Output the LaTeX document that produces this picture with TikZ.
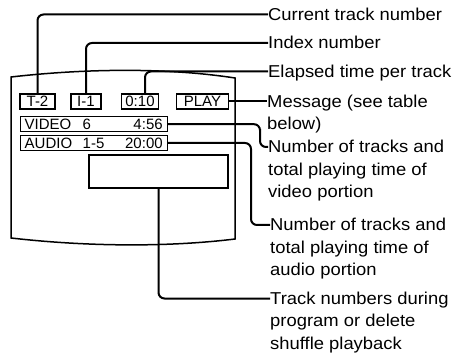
\documentclass[tikz,border=0pt]{standalone}
\usepackage{fontspec}
\setmainfont{Liberation Sans}
\newfontfamily\capfont{Liberation Sans}[FakeStretch=1.07]
\tikzset{
  readout/.style={
    draw,
    line width=1.3pt,
    inner sep=0pt,
    minimum height=15pt,
    font=\fontsize{15}{18}\selectfont
  },
  leader/.style={
    line width=2pt,
    rounded corners=6pt
  },
  caption/.style={
    anchor=base west,
    inner sep=0pt,
    font=\capfont\fontsize{17.2}{22.5}\selectfont
  }
}
\newcommand{\lcdrow}[3]{\hbox to 138pt{\hbox to 58pt{#1\hfil}#2\hfil#3}}
\newcommand{\caplines}[1]{\begin{tabular}[t]{@{}l@{}}#1\end{tabular}}

\begin{document}
\begin{tikzpicture}[x=1pt,y=-1pt]
        \useasboundingbox (0,0) rectangle (458,358);
        % screen
        \draw[line width=1.5pt] (11,77) .. controls (90,68) and (170,68) .. (235,78)
          -- (235,239) .. controls (170,247) and (90,247) .. (11,238) -- cycle;
        \node[readout, minimum width=35pt] (trk) at (37.5,101.5) {T-2};
        \node[readout, minimum width=30pt] (idx) at (86,101.5) {I-1};
        \node[readout, minimum width=37pt] (ela) at (140,101.5) {0:10};
        \node[readout, minimum width=52pt] (msg) at (202.5,101.5) {PLAY};
        \node[readout, minimum width=147pt] (vid) at (93.7,124.2) {\lcdrow{VIDEO}{6}{4:56}};
        \node[readout, minimum width=147pt] (aud) at (93.7,143) {\lcdrow{AUDIO}{1-5}{20:00}};
        \node[readout, minimum width=139pt, minimum height=33pt] (prg) at (158.5,171.5) {};
        % captions
        \node[caption] (trkcap) at (268,20.5) {Current track number};
        \node[caption] (idxcap) at (268,49) {Index number};
        \node[caption] (elacap) at (268,77.5) {Elapsed time per track};
        \node[caption] (msgcap) at (267,107.5) {\caplines{Message (see table\\below)}};
        \node[caption] (vidcap) at (268,153) {\caplines{Number of tracks and\\total playing time of\\video portion}};
        \node[caption] (audcap) at (270,231) {\caplines{Number of tracks and\\total playing time of\\audio portion}};
        \node[caption] (prgcap) at (270,304.5) {\caplines{Track numbers during\\program or delete\\shuffle playback}};
        % leaders
        \draw[leader] (trk.north) |- ([yshift=6pt]trkcap.base west);
        \draw[leader] (idx.north) |- ([yshift=6pt]idxcap.base west);
        \draw[leader] ([xshift=5pt]ela.north) |- ([yshift=6pt]elacap.base west);
        \draw[leader] (msg.east) -- ([yshift=6pt]msgcap.base west);
        \draw[leader] (vid.east) -| (260,135) |- ([yshift=6pt]vidcap.base west);
        \draw[leader] (aud.east) -| (251,190) |- ([yshift=6pt]audcap.base west);
        \draw[leader] (prg.south) |- ([yshift=6pt]prgcap.base west);
    \end{tikzpicture}
\end{document}
